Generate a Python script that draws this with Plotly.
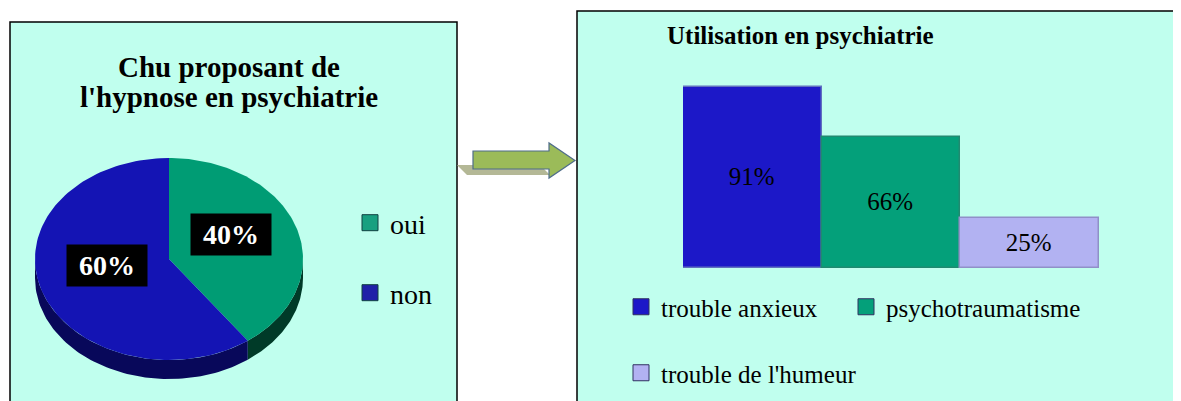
import numpy as np
import plotly.graph_objects as go

# ---------------- data ----------------
pie_labels = ["oui", "non"]
pie_values = [40, 60]
pie_colors = ["#009c74", "#1414b4"]
pie_rim_colors = ["#003a28", "#08085a"]
pie_legend_colors = ["#18a080", "#2020a8"]

bar_labels = ["trouble anxieux", "psychotraumatisme", "trouble de l'humeur"]
bar_values = [91, 66, 25]
bar_colors = ["#1c18c8", "#04a07a", "#b2b2f2"]
bar_line_colors = ["#6070c0", "#208a70", "#9090c8"]

left_title = ["Chu proposant de", "l'hypnose en psychiatrie"]
right_title = "Utilisation en psychiatrie"

W, H = 1181, 401
OFF = 8  # page body margin offset
BG = "#c0ffee"
FONT = "Liberation Serif"


def px(x):
    return (x - OFF) / W


def py(y):
    return 1 - (y - OFF) / H


fig = go.Figure()

# ---------------- 3D pie (elliptical) ----------------
cx, cy, rx, ry, th = 169, 259, 134, 101, 19
total = sum(pie_values)
starts = np.cumsum([0] + pie_values[:-1]) / total * 360
ends = np.cumsum(pie_values) / total * 360


def ell(a_deg, dy=0):
    a = np.radians(a_deg)
    return cx + rx * np.sin(a), cy - ry * np.cos(a) + dy


for i, (a0, a1) in enumerate(zip(starts, ends)):
    lo, hi = max(a0, 90), min(a1, 270)
    if hi > lo:
        ang = np.linspace(lo, hi, 80)
        xt, yt = ell(ang)
        xb, yb = ell(ang[::-1], th)
        fig.add_trace(go.Scatter(
            x=np.concatenate([xt, xb]), y=np.concatenate([yt, yb]),
            mode="lines", fill="toself", fillcolor=pie_rim_colors[i],
            line=dict(width=0, color=pie_rim_colors[i]),
            hoverinfo="skip", showlegend=False, xaxis="x", yaxis="y"))

for i, (a0, a1) in enumerate(zip(starts, ends)):
    ang = np.linspace(a0, a1, 120)
    xs, ys = ell(ang)
    fig.add_trace(go.Scatter(
        x=np.concatenate([[cx], xs, [cx]]), y=np.concatenate([[cy], ys, [cy]]),
        mode="lines", fill="toself", fillcolor=pie_colors[i],
        line=dict(width=0, color=pie_colors[i]),
        hoverinfo="skip", showlegend=False, xaxis="x", yaxis="y"))

annotations = []
label_cy = cy - 9
for i, (a0, a1) in enumerate(zip(starts, ends)):
    mid = np.radians((a0 + a1) / 2)
    lx, ly = cx + 0.49 * rx * np.sin(mid), label_cy - 0.49 * ry * np.cos(mid)
    annotations.append(dict(
        x=float(lx), y=float(ly), xref="x", yref="y", showarrow=False,
        xanchor="center", yanchor="middle",
        text="<b>\u00a0" + f"{pie_values[i]}%" + "\u00a0</b>",
        font=dict(family=FONT, size=28, color="white"),
        bgcolor="black", borderpad=5))

pie_leg_pos = [223, 293]
for i, lab in enumerate(pie_labels):
    name = "legend" if i == 0 else f"legend{i + 1}"
    fig.add_trace(go.Scatter(
        x=[None], y=[None], mode="markers", name=lab, legend=name,
        marker=dict(symbol="square", size=16, color=pie_legend_colors[i],
                    line=dict(color="#104040", width=1)),
        showlegend=True, xaxis="x", yaxis="y"))

# ---------------- bars ----------------
for i, lab in enumerate(bar_labels):
    fig.add_trace(go.Bar(
        x=[lab], y=[bar_values[i]], name=lab, showlegend=False,
        marker=dict(color=bar_colors[i], line=dict(color=bar_line_colors[i], width=1.5)),
        text=[f"{bar_values[i]}%"], textposition="inside", insidetextanchor="middle",
        textangle=0, constraintext="none",
        insidetextfont=dict(family=FONT, size=25, color="black"),
        xaxis="x2", yaxis="y2", hoverinfo="skip"))

bar_leg = [("legend3", 621, 307), ("legend4", 846, 307), ("legend5", 621, 373)]
for i, lab in enumerate(bar_labels):
    fig.add_trace(go.Scatter(
        x=[None], y=[None], mode="markers", name=lab, legend=bar_leg[i][0],
        marker=dict(symbol="square", size=16, color=bar_colors[i],
                    line=dict(color="#303060", width=1)),
        showlegend=True, xaxis="x", yaxis="y"))

# ---------------- layout ----------------
shapes = [
    dict(type="rect", xref="paper", yref="paper", x0=px(10), x1=px(457), y0=py(415), y1=py(22),
         fillcolor=BG, line=dict(color="black", width=1.5), layer="below"),
    dict(type="rect", xref="paper", yref="paper", x0=px(577), x1=px(1200), y0=py(415), y1=py(11),
         fillcolor=BG, line=dict(color="black", width=1.5), layer="below"),
]


def arrow_path(pts, dx=0, dy=0):
    return "M " + " L ".join(f"{px(x + dx):.5f},{py(y + dy):.5f}" for x, y in pts) + " Z"


arrow_pts = [(473, 151), (549, 151), (549, 143), (575, 160.5), (549, 178), (549, 169), (473, 169)]
shadow_pts = [(457, 165), (540, 165), (550, 175), (467, 175)]
shapes.append(dict(type="path", xref="paper", yref="paper", path=arrow_path(shadow_pts),
                   fillcolor="#b4b896", line=dict(width=0), layer="above"))
shapes.append(dict(type="path", xref="paper", yref="paper", path=arrow_path(arrow_pts),
                   fillcolor="#9bbb59", line=dict(color="#4f6d8a", width=1.2), layer="above"))

title_common = dict(xref="paper", yref="paper", showarrow=False, xanchor="center", yanchor="middle")
annotations += [
    dict(x=px(229), y=py(67), text=f"<b>{left_title[0]}</b>",
         font=dict(family=FONT, size=29, color="black"), **title_common),
    dict(x=px(229), y=py(97), text=f"<b>{left_title[1]}</b>",
         font=dict(family=FONT, size=29, color="black"), **title_common),
    dict(x=px(800), y=py(36), text=f"<b>{right_title}</b>",
         font=dict(family=FONT, size=25, color="black"), **title_common),
]

layout = dict(
    width=W, height=H, margin=dict(l=0, r=0, t=0, b=0, autoexpand=False),
    paper_bgcolor="white", plot_bgcolor="rgba(0,0,0,0)",
    xaxis=dict(domain=[0, 1], range=[OFF, W + OFF], visible=False, fixedrange=True),
    yaxis=dict(domain=[0, 1], range=[H + OFF, OFF], visible=False, fixedrange=True),
    xaxis2=dict(domain=[px(683), px(1099)], range=[-0.5, 2.5], visible=False,
                anchor="y2", type="category", categoryarray=bar_labels),
    yaxis2=dict(domain=[py(268), py(69)], range=[0, 100], visible=False, anchor="x2"),
    barmode="overlay", bargap=0,
    shapes=shapes, annotations=annotations,
    font=dict(family=FONT),
    showlegend=True,
)

leg_common = dict(bgcolor="rgba(0,0,0,0)", borderwidth=0, xanchor="left", yanchor="middle",
                  itemclick=False, itemdoubleclick=False)
layout["legend"] = dict(x=px(350), y=py(pie_leg_pos[0]), font=dict(family=FONT, size=28, color="black"), **leg_common)
layout["legend2"] = dict(x=px(350), y=py(pie_leg_pos[1]), font=dict(family=FONT, size=28, color="black"), **leg_common)
for name, lx, ly in bar_leg:
    layout[name] = dict(x=px(lx), y=py(ly), font=dict(family=FONT, size=25, color="black"), **leg_common)

fig.update_layout(**layout)
fig.write_html("out.html")
